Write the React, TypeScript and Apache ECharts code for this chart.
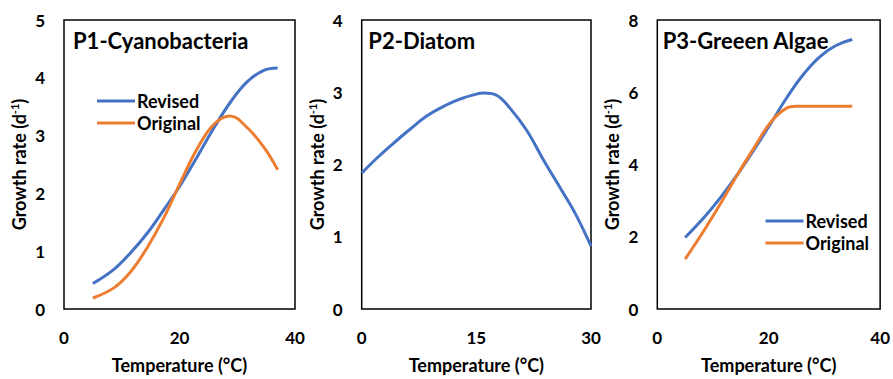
import React, { useEffect, useRef } from "react";
import * as echarts from "echarts";

const p1Temp = [5, 8.7, 11.5, 14.4, 17.3, 20.2, 23.1, 26, 28.9, 31.7, 34.6, 37];
const p1Revised = [0.44, 0.69, 0.97, 1.31, 1.72, 2.15, 2.64, 3.14, 3.59, 3.93, 4.13, 4.17];
const p1OrigTemp = [5, 8.7, 11.5, 14.4, 17.3, 20.2, 23.1, 26, 28.7, 31.7, 34.6, 37];
const p1Original = [0.19, 0.37, 0.64, 1.06, 1.58, 2.2, 2.78, 3.2, 3.34, 3.14, 2.8, 2.41];

const p2Temp = [0, 2, 4, 6, 8.5, 11, 13, 14.5, 16, 17.7, 19.4, 21.6, 23.8, 26, 28, 30];
const p2Rate = [1.88, 2.09, 2.28, 2.46, 2.67, 2.82, 2.91, 2.96, 2.99, 2.955, 2.78, 2.47, 2.06, 1.67, 1.31, 0.87];

const p3Temp = [5, 8.7, 11.6, 14.5, 17.4, 20.3, 23.2, 26.1, 29, 31.9, 35];
const p3Revised = [1.98, 2.59, 3.14, 3.75, 4.42, 5.12, 5.84, 6.47, 6.96, 7.28, 7.46];
const p3OrigTemp = [5, 8.7, 11.6, 14.5, 17.4, 20.3, 23.2, 24.9, 27, 30, 35];
const p3Original = [1.38, 2.25, 2.98, 3.75, 4.47, 5.16, 5.56, 5.61, 5.61, 5.61, 5.61];

const titles = ["P1-Cyanobacteria", "P2-Diatom", "P3-Greeen Algae"];
const legendNames = ["Revised", "Original"];
const xName = "Temperature (°C)";

const BLUE = "#4472C4";
const ORANGE = "#ED7D31";
const FONT = "Lato";

const zip = (xs: number[], ys: number[]) => xs.map((x, i) => [x, ys[i]]);

export default function App() {
  const ref = useRef<HTMLDivElement>(null);
  useEffect(() => {
    if (!ref.current) return;
    const chart = echarts.init(ref.current, null, { renderer: "svg" });
    const grids = [
      { left: 64, top: 20, width: 231, height: 296 },
      { left: 361.7, top: 20, width: 229.3, height: 296 },
      { left: 657.3, top: 20, width: 229.4, height: 296 },
    ].map((g) => ({ ...g, show: true, borderColor: "#000", borderWidth: 1.5, containLabel: false }));
    const xCfg = [
      { min: 0, max: 40, interval: 20 },
      { min: 0, max: 30, interval: 15 },
      { min: 0, max: 40, interval: 20 },
    ];
    const yCfg = [
      { min: 0, max: 5, interval: 1 },
      { min: 0, max: 4, interval: 1 },
      { min: 0, max: 8, interval: 2 },
    ];
    const labelStyle = { color: "#000", fontWeight: "bold" as const, fontSize: 17, fontFamily: FONT };
    const nameStyle = { ...labelStyle, fontSize: 18 };
    const lineSeries = (name: string, idx: number, data: number[][], color: string) => ({
      type: "line",
      name,
      xAxisIndex: idx,
      yAxisIndex: idx,
      data,
      smooth: 0.4,
      showSymbol: false,
      lineStyle: { color, width: 3 },
      itemStyle: { color },
    });
    const legendBase = {
      orient: "vertical",
      icon: "rect",
      itemWidth: 38,
      itemHeight: 3,
      itemGap: 4,
      data: legendNames,
      selectedMode: false,
      textStyle: { ...labelStyle, fontSize: 18, padding: [0, 0, 0, -3] },
    };
    chart.setOption({
      animation: false,
      grid: grids,
      xAxis: xCfg.map((c, i) => ({
        type: "value",
        gridIndex: i,
        ...c,
        name: xName,
        nameLocation: "middle",
        nameGap: 47,
        nameTextStyle: nameStyle,
        axisLine: { show: false },
        axisTick: { show: false },
        splitLine: { show: false },
        axisLabel: { ...labelStyle, margin: 20 },
      })),
      yAxis: yCfg.map((c, i) => ({
        type: "value",
        gridIndex: i,
        ...c,
        name: "{b|Growth rate (d}{sup|-1}{b|)}",
        nameLocation: "middle",
        nameGap: 35,
        nameRotate: 90,
        nameTextStyle: {
          ...nameStyle,
          rich: {
            b: { ...nameStyle, lineHeight: 20 },
            sup: { ...nameStyle, fontSize: 11, verticalAlign: "top", lineHeight: 20 },
          },
        },
        axisLine: { show: false },
        axisTick: { show: false },
        splitLine: { show: false },
        axisLabel: { ...labelStyle, margin: 19 },
      })),
      legend: [
        { ...legendBase, left: 92, top: 87 },
        { ...legendBase, left: 760.5, top: 207 },
      ],
      graphic: [
        { type: "text", left: 73, top: 29, style: { text: titles[0], font: `bold 22px ${FONT}`, fill: "#000" } },
        { type: "text", left: 368.3, top: 29, style: { text: titles[1], font: `bold 22px ${FONT}`, fill: "#000" } },
        { type: "text", left: 662.7, top: 29, style: { text: titles[2], font: `bold 22px ${FONT}`, fill: "#000" } },
      ],
      series: [
        lineSeries("Revised", 0, zip(p1Temp, p1Revised), BLUE),
        lineSeries("Original", 0, zip(p1OrigTemp, p1Original), ORANGE),
        lineSeries("Diatom", 1, zip(p2Temp, p2Rate), BLUE),
        lineSeries("Revised", 2, zip(p3Temp, p3Revised), BLUE),
        lineSeries("Original", 2, zip(p3OrigTemp, p3Original), ORANGE),
      ],
    });
    return () => chart.dispose();
  }, []);
  return (
    <div
      ref={ref}
      style={{ position: "fixed", left: 0, top: 0, width: 893, height: 379, background: "#fff" }}
    />
  );
}
